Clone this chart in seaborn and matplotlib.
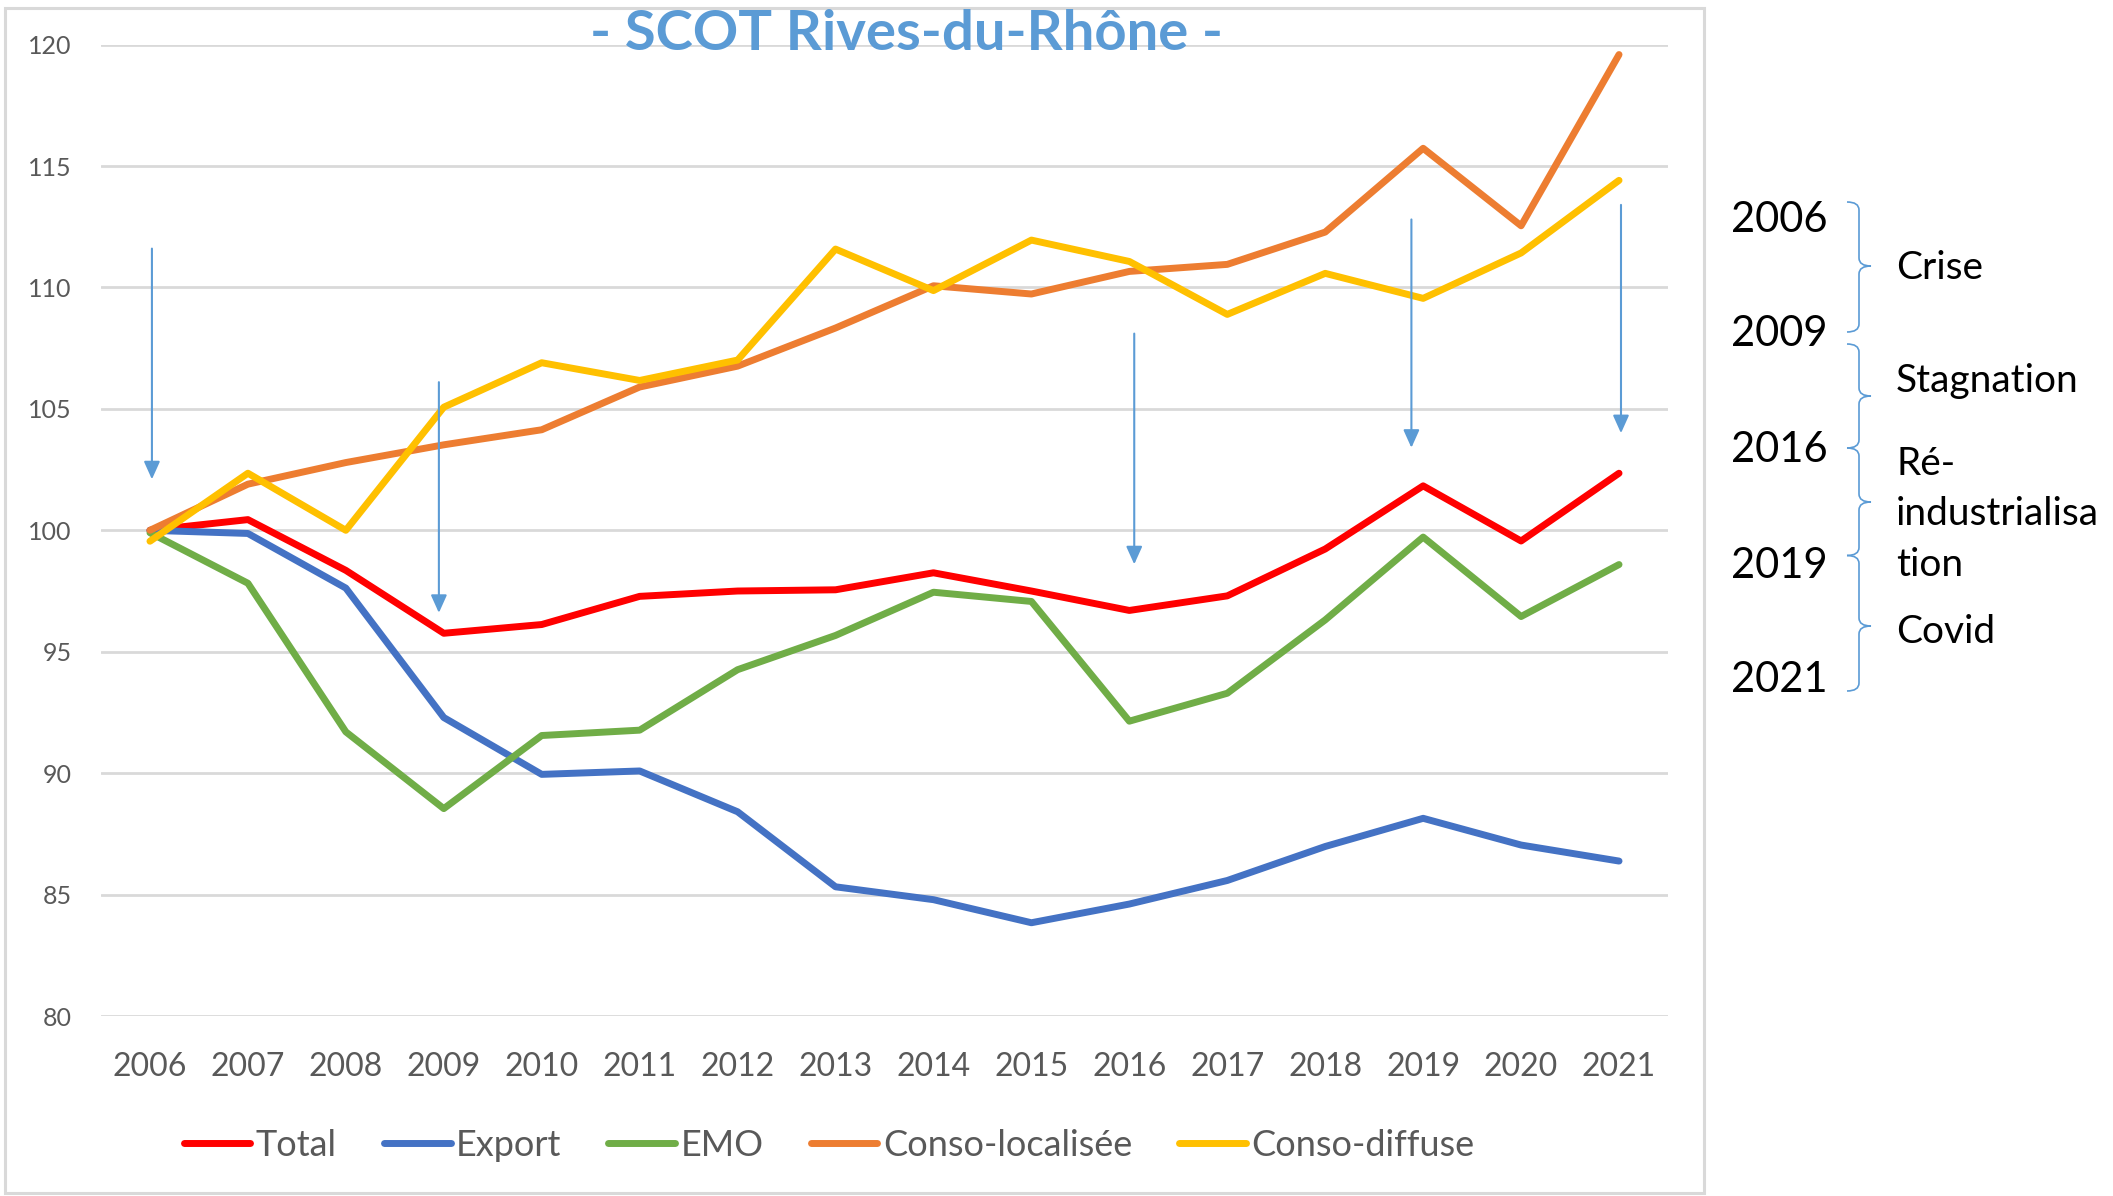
import numpy as np
import pandas as pd
import matplotlib
matplotlib.use("Agg")
import matplotlib.pyplot as plt
import seaborn as sns
from matplotlib.path import Path
from matplotlib.patches import PathPatch, Rectangle

# ---- data -------------------------------------------------------------
years = list(range(2006, 2022))
total = [100.0, 100.44, 98.35, 95.76, 96.12, 97.28, 97.5, 97.55, 98.25, 97.5,
         96.7, 97.3, 99.23, 101.83, 99.56, 102.35]
export = [100.0, 99.87, 97.62, 92.29, 89.95, 90.09, 88.41, 85.32, 84.79, 83.84,
          84.61, 85.58, 86.98, 88.14, 87.04, 86.38]
emo = [99.9, 97.82, 91.7, 88.54, 91.55, 91.77, 94.26, 95.67, 97.45, 97.07,
       92.14, 93.29, 96.31, 99.72, 96.45, 98.59]
conso_loc = [100.0, 101.9, 102.79, 103.52, 104.14, 105.9, 106.76, 108.33, 110.07,
             109.73, 110.66, 110.95, 112.28, 115.73, 112.54, 119.59]
conso_diff = [99.55, 102.35, 100.0, 105.07, 106.9, 106.17, 107.01, 111.58, 109.87,
              111.95, 111.07, 108.89, 110.58, 109.55, 111.42, 114.41]

series_names = ["Total", "Export", "EMO", "Conso-localisée", "Conso-diffuse"]
series_colors = ["#FF0000", "#4472C4", "#70AD47", "#ED7D31", "#FFC000"]

# downward arrows marking the turning points
arrow_x = [2006.02, 2008.95, 2016.05, 2018.88, 2021.02]
arrow_top = [111.6, 106.1, 108.1, 112.8, 113.4]
arrow_tip = [102.1, 96.6, 98.6, 103.4, 104.0]

# period key on the right
period_years = ["2006", "2009", "2016", "2019", "2021"]
period_labels = ["Crise", "Stagnation", "Ré-\nindustrialisa\ntion", "Covid"]

title = "- SCOT Rives-du-Rhône -"

# ---- figure -----------------------------------------------------------
W, H = 2113, 1196
sns.set_theme(style="white")
plt.rcParams["font.family"] = ["Lato", "DejaVu Sans"]

fig = plt.figure(figsize=(W / 100, H / 100), dpi=100)
fig.patch.set_facecolor("white")

ax = fig.add_axes([101 / W, 1 - 1016 / H, (1668 - 101) / W, (1016 - 44.6) / H])

df = pd.DataFrame({
    "Année": years * 5,
    "Indice": total + export + emo + conso_loc + conso_diff,
    "Série": sum([[n] * len(years) for n in series_names], []),
})

LW = 5.0
sns.lineplot(data=df, x="Année", y="Indice", hue="Série", hue_order=series_names,
             palette=series_colors, lw=LW, ax=ax, legend=True,
             solid_capstyle="round", solid_joinstyle="round")

ax.set_xlim(2005.5, 2021.5)
ax.set_ylim(80, 120)
ax.set_xticks(years)
ax.set_xticklabels([str(y) for y in years])
ax.set_yticks(np.arange(80, 121, 5))
ax.set_xlabel("")
ax.set_ylabel("")
ax.grid(axis="y", color="#D9D9D9", lw=2.0)
ax.grid(axis="x", visible=False)
ax.set_axisbelow(True)
for s in ax.spines.values():
    s.set_visible(False)
ax.tick_params(axis="y", length=0, pad=21, labelsize=18, labelcolor="#595959")
ax.tick_params(axis="x", length=0, pad=26, labelsize=23, labelcolor="#595959")

for x, y0, y1 in zip(arrow_x, arrow_top, arrow_tip):
    ax.annotate("", xy=(x, y1), xytext=(x, y0),
                arrowprops=dict(arrowstyle="-|>,head_length=0.4,head_width=0.18",
                                color="#5B9BD5", lw=1.5, mutation_scale=27,
                                shrinkA=0, shrinkB=0))

handles, labels = ax.get_legend_handles_labels()
ax.get_legend().remove()
leg = fig.legend(handles, labels, loc="center", bbox_to_anchor=(829 / W, 1 - 1145 / H),
                 ncol=5, frameon=False, fontsize=26, handlelength=1.85,
                 handletextpad=0.15, columnspacing=1.3)
for t in leg.get_texts():
    t.set_color("#595959")
for h in leg.get_lines():
    h.set_linewidth(LW)
    h.set_solid_capstyle("round")

# ---- overlay in pixel coordinates for title, frame and period key ----
ov = fig.add_axes([0, 0, 1, 1], zorder=-1)
ov.set_xlim(0, W)
ov.set_ylim(H, 0)
ov.axis("off")

ov.add_patch(Rectangle((5, 8), 1699, 1185, fill=False, ec="#D9D9D9", lw=2.2))

fig.text(907 / W, 1 - 50 / H, title, ha="center", va="baseline", fontsize=40.5,
         fontweight="bold", color="#5B9BD5")

year_baselines = [232, 346, 462.5, 578, 692]
for txt, yb in zip(period_years, year_baselines):
    fig.text(1731 / W, 1 - yb / H, txt, ha="left", va="baseline", fontsize=30,
             color="black")

label_baselines = [[278.6], [392], [475, 525, 575.5], [643]]
for lab, ybs in zip(period_labels, label_baselines):
    for line, yb in zip(lab.split("\n"), ybs):
        fig.text(1896 / W, 1 - yb / H, line, ha="left", va="baseline", fontsize=28,
                 color="black")


def brace(axis, x0, y_top, y_bot, y_mid, w=24, r=8):
    xm = x0 + w / 2
    xt = x0 + w
    verts = [(x0, y_top), (xm, y_top), (xm, y_top + r),
             (xm, y_mid - r),
             (xm, y_mid), (xt, y_mid),
             (xm, y_mid), (xm, y_mid + r),
             (xm, y_bot - r),
             (xm, y_bot), (x0, y_bot)]
    codes = [Path.MOVETO, Path.CURVE3, Path.CURVE3,
             Path.LINETO,
             Path.CURVE3, Path.CURVE3,
             Path.CURVE3, Path.CURVE3,
             Path.LINETO,
             Path.CURVE3, Path.CURVE3]
    axis.add_patch(PathPatch(Path(verts, codes), fill=False, ec="#5B9BD5", lw=1.2))


brace_spans = [(202, 332, 266), (344, 448, 396), (448, 555.5, 502), (555.5, 691, 626)]
for yt, yb, ym in brace_spans:
    brace(ov, 1847, yt, yb, ym)

fig.savefig("out.png", dpi=100, facecolor="white")
